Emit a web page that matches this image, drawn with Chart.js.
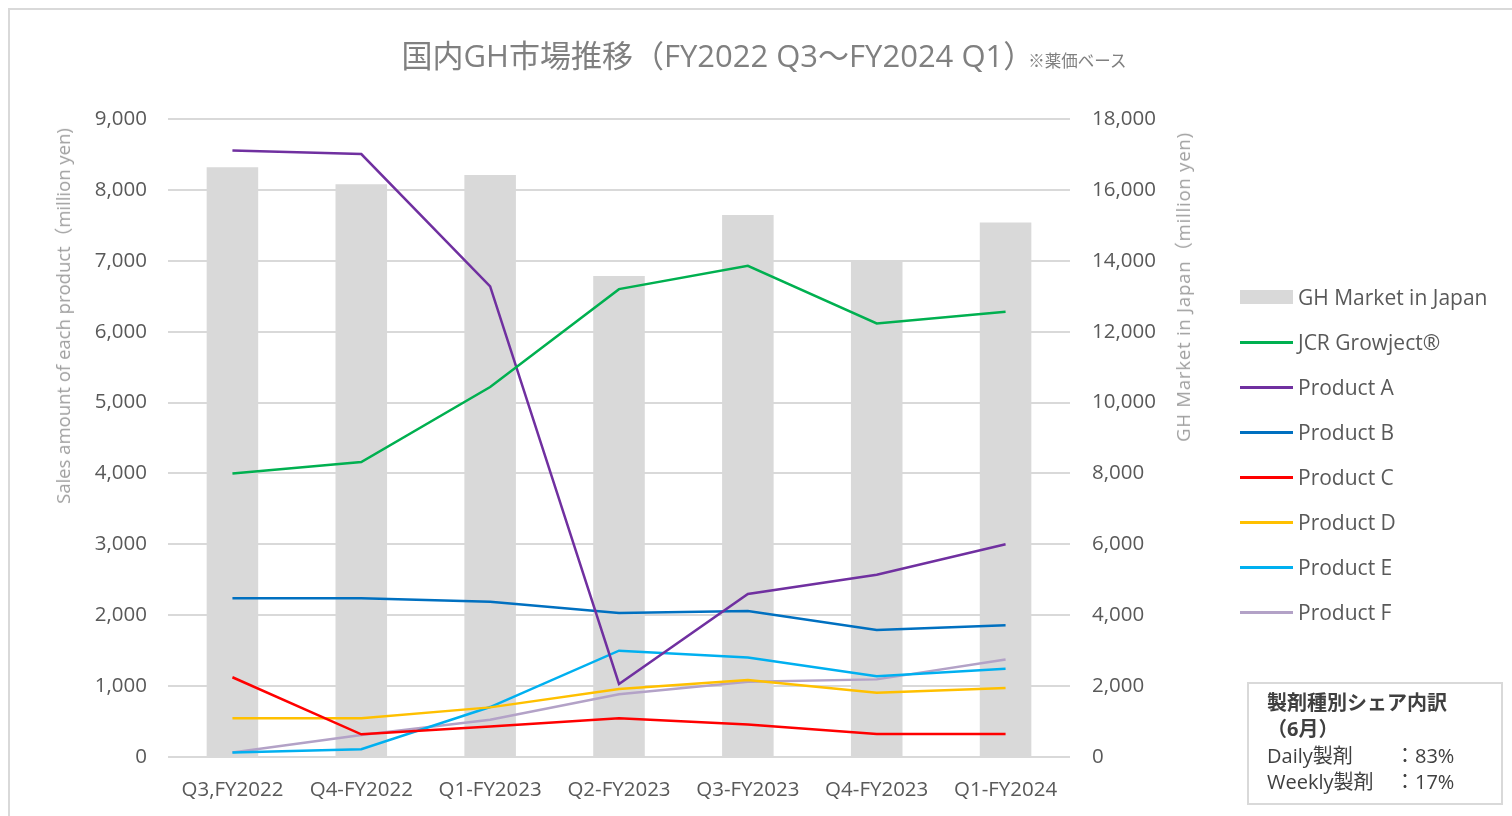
<!DOCTYPE html>
<html>
<head>
<meta charset="utf-8">
<script src="https://cdn.jsdelivr.net/npm/chart.js@4"></script>
<style>
  body { margin: 0; background: #fff; font-family: "Open Sans", "Noto Sans CJK JP", sans-serif; }
  #wrap { position: relative; width: 1512px; height: 816px; overflow: hidden; }
  #frame { position: absolute; left: 8px; top: 8px; width: 1600px; height: 900px; border: 2px solid #d9d9d9; }
  #chartBox { position: absolute; left: 0; top: 0; width: 1512px; height: 816px; }
  #title { position: absolute; left: 8px; width: 1512px; top: 31px; text-align: center; color: #808080; white-space: nowrap; }
  #title .main { font-size: 31px; }
  #title .note { font-size: 16.5px; margin-left: -6px; }
  .axisTitle { position: absolute; color: #a0a0a0; font-size: 18.5px; white-space: nowrap; transform: translate(-50%, -50%) rotate(-90deg); }
  #legend { position: absolute; left: 1240px; top: 282px; }
  .item { height: 45px; display: flex; align-items: flex-start; }
  .swatch { width: 53px; margin-right: 5px; }
  .item span { font-size: 21px; color: #595959; line-height: 30px; }
  #info { position: absolute; left: 1247px; top: 682px; width: 256px; height: 123px; border: 2px solid #d9d9d9; color: #404040; box-sizing: border-box; }
  #info .hd { position: absolute; left: 18px; top: 6px; font-size: 20px; font-weight: bold; line-height: 26px; }
  #info .row { position: absolute; left: 18px; font-size: 20px; line-height: 26px; }
  #info .row b { font-weight: normal; position: absolute; left: 128px; white-space: nowrap; }
</style>
</head>
<body>
<div id="wrap">
  <div id="frame"></div>
  <div id="chartBox"><canvas id="chart"></canvas></div>
  <div id="title"><span class="main">国内GH市場推移（FY2022 Q3～FY2024 Q1）</span><span class="note">※薬価ベース</span></div>
  <div class="axisTitle" style="left:62px; top:316px;">Sales amount of each product（million yen)</div>
  <div class="axisTitle" style="left:1182px; top:287px; letter-spacing:0.8px;">GH Market in Japan（million yen)</div>
  <div id="legend"></div>
  <div id="info">
    <div class="hd">製剤種別シェア内訳<br>（6月）</div>
    <div class="row" style="top:59px;">Daily製剤<b>：83%</b></div>
    <div class="row" style="top:85px;">Weekly製剤<b>：17%</b></div>
  </div>
</div>
<script>
// Quarters
const quarters = ["Q3,FY2022", "Q4-FY2022", "Q1-FY2023", "Q2-FY2023", "Q3-FY2023", "Q4-FY2023", "Q1-FY2024"];

// Market total (right axis)
const ghMarket = [16640, 16160, 16420, 13570, 15290, 13980, 15080];

// Products (left axis)
const jcrGrowject = [4000, 4160, 5220, 6600, 6930, 6115, 6280];
const productA = [8555, 8505, 6640, 1030, 2300, 2570, 3000];
const productB = [2240, 2240, 2190, 2030, 2060, 1790, 1860];
const productC = [1125, 320, 430, 545, 460, 325, 325];
const productD = [545, 545, 700, 960, 1085, 905, 975];
const productE = [65, 110, 705, 1500, 1405, 1140, 1245];
const productF = [65, 310, 525, 885, 1060, 1095, 1375];

const lineSeries = [
    { label: "JCR Growject®", data: jcrGrowject, color: "#00b050" },
    { label: "Product A", data: productA, color: "#7030a0" },
    { label: "Product B", data: productB, color: "#0070c0" },
    { label: "Product C", data: productC, color: "#ff0000" },
    { label: "Product D", data: productD, color: "#ffc000" },
    { label: "Product E", data: productE, color: "#00b0f0" },
    { label: "Product F", data: productF, color: "#b3a2c7" }
];

const datasets = [{
    type: "bar",
    label: "GH Market in Japan",
    data: ghMarket,
    yAxisID: "y1",
    backgroundColor: "#d9d9d9",
    barPercentage: 0.4,
    categoryPercentage: 1,
    order: 10
}];

lineSeries.forEach((s) => {
    datasets.push({
        type: "line",
        label: s.label,
        data: s.data,
        yAxisID: "y",
        borderColor: s.color,
        backgroundColor: s.color,
        borderWidth: 2.5,
        pointRadius: 0,
        tension: 0,
        fill: false,
        order: 1
    });
});

// Legend
let legendHTML = "";
datasets.forEach((d) => {
    const sw = d.type === "bar"
        ? `<div class="swatch" style="height:14px;margin-top:8px;background:${d.backgroundColor}"></div>`
        : `<div class="swatch" style="height:3px;margin-top:14px;background:${d.borderColor}"></div>`;
    legendHTML += `<div class="item">${sw}<span>${d.label}</span></div>`;
});
document.getElementById("legend").innerHTML = legendHTML;

const tickFont = { family: "'Open Sans', 'Noto Sans CJK JP', sans-serif", size: 20.5 };

new Chart(document.getElementById("chart"), {
    data: { labels: quarters, datasets: datasets },
    options: {
        responsive: true,
        maintainAspectRatio: false,
        animation: false,
        layout: { padding: { left: 20, right: 302, top: 119, bottom: 0 } },
        plugins: { legend: { display: false }, tooltip: { enabled: false } },
        scales: {
            x: {
                grid: { display: false },
                border: { display: false },
                ticks: { color: "#595959", font: tickFont, padding: 13, maxRotation: 0 },
                afterFit: (s) => { s.height = 59; }
            },
            y: {
                position: "left",
                min: 0, max: 9000,
                ticks: {
                    stepSize: 1000, color: "#595959", font: tickFont, padding: 21,
                    callback: (v) => v.toLocaleString("en-US")
                },
                grid: { color: "#d9d9d9", lineWidth: 2, drawTicks: false },
                border: { display: false },
                afterFit: (s) => { s.width = 148; }
            },
            y1: {
                position: "right",
                min: 0, max: 18000,
                ticks: {
                    stepSize: 2000, color: "#595959", font: tickFont, padding: 22,
                    callback: (v) => v.toLocaleString("en-US")
                },
                grid: { display: false, drawTicks: false },
                border: { display: false },
                afterFit: (s) => { s.width = 140; }
            }
        }
    }
});
</script>
</body>
</html>
